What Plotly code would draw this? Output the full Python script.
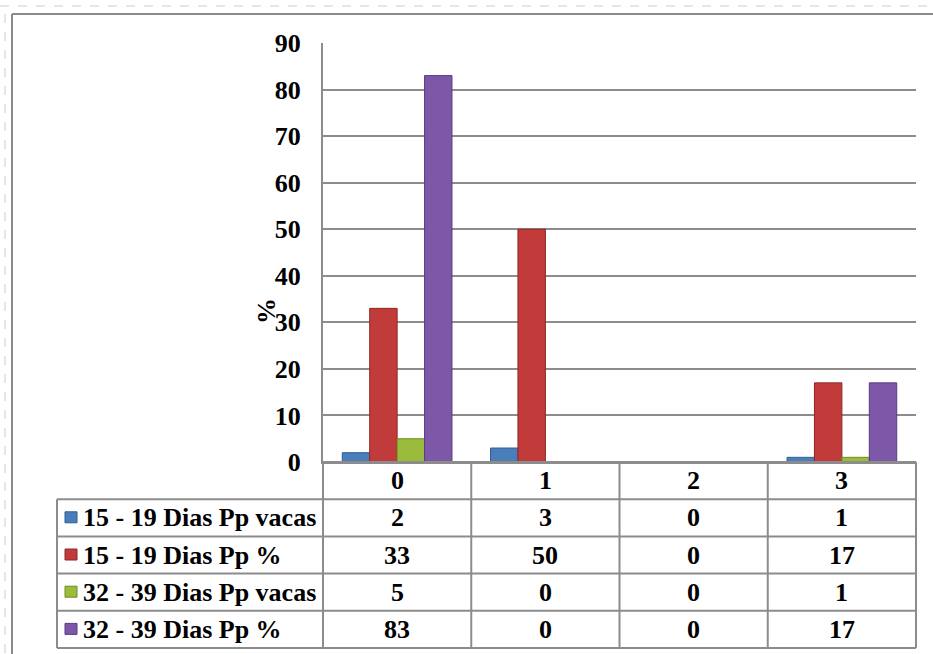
import plotly.graph_objects as go

categories = ["0", "1", "2", "3"]
series_names = ["15 - 19 Dias Pp vacas", "15 - 19 Dias Pp %", "32 - 39 Dias Pp vacas", "32 - 39 Dias Pp %"]
vals_15_19_vacas = [2, 3, 0, 1]
vals_15_19_pct = [33, 50, 0, 17]
vals_32_39_vacas = [5, 0, 0, 1]
vals_32_39_pct = [83, 0, 0, 17]
series_values = [vals_15_19_vacas, vals_15_19_pct, vals_32_39_vacas, vals_32_39_pct]
colors = ["#4a7ebb", "#c23b3b", "#9bbb3c", "#7d58a8"]
edge_colors = ["#2f5d94", "#8f2727", "#6f8c22", "#583d80"]
y_ticks = [0, 10, 20, 30, 40, 50, 60, 70, 80, 90]

W, H = 933, 654
L, R, T, B = 323, 916, 43, 462
FONT = "Liberation Serif"
FS = 26
GRID = "#8c8c8c"


def px(xp):
    return (xp - L) / (R - L)


def py(yp):
    return (B - yp) / (B - T)


fig = go.Figure()
for name, vals, c, ec in zip(series_names, series_values, colors, edge_colors):
    fig.add_trace(go.Bar(x=categories, y=vals, name=name,
                         marker=dict(color=c, line=dict(color=ec, width=1))))

shapes = []
annotations = []
tfont = dict(family=FONT, size=FS, color="black", weight="bold")

# table geometry
table_left = 57
row_h = (648 - B) / 5
row_edges = [B + i * row_h for i in range(6)]
n = len(categories)
col_edges = [i / n for i in range(n + 1)]  # paper coords of category boundaries

for ce in col_edges:
    shapes.append(dict(type="line", xref="paper", yref="paper", x0=ce, x1=ce,
                       y0=py(row_edges[0]), y1=py(row_edges[-1]),
                       line=dict(color=GRID, width=2)))
shapes.append(dict(type="line", xref="paper", yref="paper", x0=px(table_left), x1=px(table_left),
                   y0=py(row_edges[1]), y1=py(row_edges[-1]), line=dict(color=GRID, width=2)))
for i, ye in enumerate(row_edges):
    x0 = 0 if i == 0 else px(table_left)
    shapes.append(dict(type="line", xref="paper", yref="paper", x0=x0, x1=1,
                       y0=py(ye), y1=py(ye), line=dict(color=GRID, width=2)))

# header labels
for cat in categories:
    annotations.append(dict(x=cat, xref="x", y=py((row_edges[0] + row_edges[1]) / 2), yref="paper",
                            text=cat, showarrow=False, xanchor="center", yanchor="middle",
                            font=tfont))

# rows
for r, (name, vals, c, ec) in enumerate(zip(series_names, series_values, colors, edge_colors)):
    yc = (row_edges[r + 1] + row_edges[r + 2]) / 2
    shapes.append(dict(type="rect", xref="paper", yref="paper",
                       x0=px(65), x1=px(77), y0=py(yc + 5), y1=py(yc - 6),
                       fillcolor=c, line=dict(color=ec, width=1)))
    annotations.append(dict(x=px(81), xref="paper", y=py(yc), yref="paper", text=name,
                            showarrow=False, xanchor="left", yanchor="middle", font=tfont))
    for cat, v in zip(categories, vals):
        annotations.append(dict(x=cat, xref="x", y=py(yc), yref="paper", text=str(v),
                                showarrow=False, xanchor="center", yanchor="middle", font=tfont))

# y-axis title
annotations.append(dict(x=px(266), xref="paper", y=py(311), yref="paper", text="%",
                        textangle=-90, showarrow=False, xanchor="center", yanchor="middle",
                        font=tfont))

# outer frame (top and left) and faint page ruler marks
shapes.append(dict(type="line", xref="paper", yref="paper", x0=px(12), x1=px(W), y0=py(14), y1=py(14),
                   line=dict(color="#8a8a8a", width=2)))
shapes.append(dict(type="line", xref="paper", yref="paper", x0=px(12), x1=px(12), y0=py(14), y1=py(H),
                   line=dict(color="#8a8a8a", width=2)))
shapes.append(dict(type="line", xref="paper", yref="paper", x0=px(0), x1=px(W), y0=py(6), y1=py(6),
                   line=dict(color="#e6e6e6", width=2, dash="dash")))
shapes.append(dict(type="line", xref="paper", yref="paper", x0=px(5), x1=px(5), y0=py(14), y1=py(H),
                   line=dict(color="#e6e6e6", width=2, dash="dash")))

fig.update_layout(
    width=W, height=H, autosize=False,
    margin=dict(l=L, r=W - R, t=T, b=H - B, pad=0),
    paper_bgcolor="white", plot_bgcolor="white",
    barmode="group", bargap=0.26, bargroupgap=0,
    showlegend=False,
    shapes=shapes, annotations=annotations,
    xaxis=dict(type="category", showticklabels=False, showgrid=False, zeroline=False,
               showline=True, linecolor=GRID, linewidth=2, range=[-0.5, 3.5]),
    yaxis=dict(range=[0, 90], tickvals=y_ticks, showgrid=True, gridcolor=GRID, gridwidth=2,
               zeroline=False, showline=True, linecolor=GRID, linewidth=2,
               ticks="", ticklabelstandoff=15, tickfont=tfont),
)

fig.write_html("out.html", config={"displayModeBar": False},
               post_script="document.body.style.margin='0';document.body.style.overflow='hidden';")
